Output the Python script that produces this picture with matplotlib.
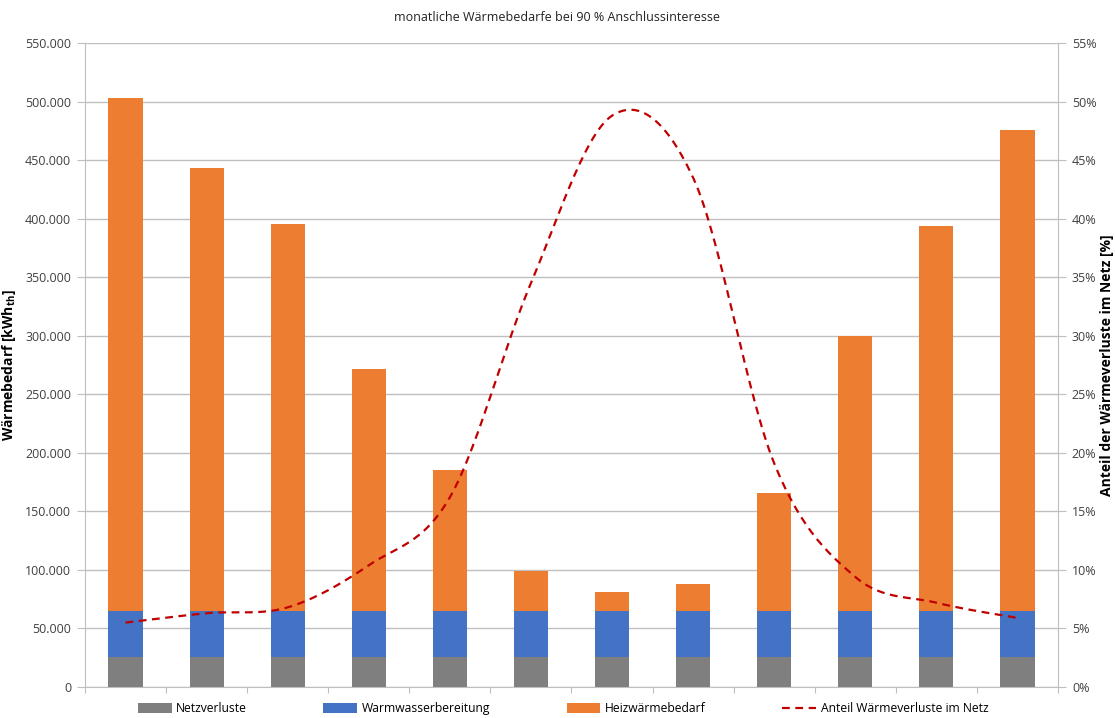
"""
monatliche Waermebedarfe als gestapelte Balken mit Verlustanteil
"""

import numpy as np
import matplotlib.pyplot as plt
from matplotlib.ticker import FuncFormatter, FixedLocator

plt.rcParams['font.family'] = ['Open Sans', 'DejaVu Sans']

# data
months = ['Jan', 'Feb', 'Mär', 'Apr', 'Mai', 'Jun', 'Jul', 'Aug', 'Sep', 'Okt', 'Nov', 'Dez']
netzverluste = [25600] * 12
warmwasser = [39300] * 12
gesamt = [503000, 443000, 395500, 271500, 185000, 99400, 81300, 87900, 166000, 300000, 393500, 475500]
anteil = [5.5, 6.3, 6.8, 10.4, 16.2, 34.5, 48.8, 43.5, 19.1, 9.4, 7.2, 5.9]

heizwaerme = [g - n - w for g, n, w in zip(gesamt, netzverluste, warmwasser)]

c_grey = '#7f7f7f'
c_blue = '#4472c4'
c_orange = '#ed7d31'
c_red = '#c00000'
c_grid = '#bfbfbf'


def catmull_rom(x, y, n=30):
    # smooth line like the spreadsheet's "smoothed line" option
    pts = np.column_stack([x, y]).astype(float)
    pts = np.vstack([pts[0], pts, pts[-1]])
    out = []
    for i in range(1, len(pts) - 2):
        p0, p1, p2, p3 = pts[i - 1], pts[i], pts[i + 1], pts[i + 2]
        t = np.linspace(0, 1, n, endpoint=False)[:, None]
        seg = 0.5 * ((2 * p1) + (-p0 + p2) * t + (2 * p0 - 5 * p1 + 4 * p2 - p3) * t ** 2
                     + (-p0 + 3 * p1 - 3 * p2 + p3) * t ** 3)
        out.append(seg)
    out.append(pts[-2][None, :])
    out = np.vstack(out)
    return out[:, 0], out[:, 1]


fig = plt.figure(figsize=(11.15, 7.18), dpi=100)
ax = fig.add_axes([0.0762, 0.0432, 0.8727, 0.8968])

x = np.arange(len(months))
w = 0.42
b1 = ax.bar(x, netzverluste, w, color=c_grey, label='Netzverluste', zorder=3)
b2 = ax.bar(x, warmwasser, w, bottom=netzverluste, color=c_blue, label='Warmwasserbereitung', zorder=3)
bottom2 = [n + ww for n, ww in zip(netzverluste, warmwasser)]
b3 = ax.bar(x, heizwaerme, w, bottom=bottom2, color=c_orange, label='Heizwärmebedarf', zorder=3)

ax.set_xlim(-0.5, len(months) - 0.5)
ax.set_ylim(0, 550000)
ax.set_yticks(np.arange(0, 550001, 50000))
ax.yaxis.set_major_formatter(FuncFormatter(lambda v, p: f"{int(v):,}".replace(",", ".")))
ax.xaxis.set_major_locator(FixedLocator(np.arange(-0.5, len(months), 1.0)))
ax.set_xticklabels([])
ax.grid(axis='y', color=c_grid, linewidth=1, zorder=0)
ax.tick_params(axis='x', length=4, color=c_grid, direction='out')
ax.tick_params(axis='y', length=6, color=c_grid, labelsize=9, labelcolor='#404040', pad=4)
ax.set_ylabel('Wärmebedarf [kWh$_\\mathregular{th}$]', fontsize=10, fontweight='bold')
ax.yaxis.set_label_coords(-0.0689, 0.5)

for s in ['top', 'right']:
    ax.spines[s].set_visible(False)
for s in ['left', 'bottom']:
    ax.spines[s].set_color(c_grid)

ax2 = ax.twinx()
sx, sy = catmull_rom(x, anteil)
line, = ax2.plot(sx, sy, color=c_red, linestyle=(0, (3.5, 2.5)), linewidth=1.6,
                 label='Anteil Wärmeverluste im Netz', zorder=4)
ax2.set_ylim(0, 55)
ax2.set_yticks(np.arange(0, 56, 5))
ax2.yaxis.set_major_formatter(FuncFormatter(lambda v, p: f"{int(v)}%"))
ax2.tick_params(axis='y', length=6, color=c_grid, labelsize=9, labelcolor='#404040', pad=4)
ax2.set_ylabel('Anteil der Wärmeverluste im Netz [%]', fontsize=10, fontweight='bold',
               rotation=90)
ax2.yaxis.set_label_coords(1.043, 0.5)
for s in ['top', 'left', 'bottom']:
    ax2.spines[s].set_visible(False)
ax2.spines['right'].set_color(c_grid)

fig.text(0.5, 0.975, 'monatliche Wärmebedarfe bei 90 % Anschlussinteresse',
         ha='center', va='center', fontsize=9, color='#222222')

fig.legend(handles=[b1, b2, b3, line], loc='center', bbox_to_anchor=(0.505, 0.013),
           ncol=4, frameon=False, fontsize=8.7, columnspacing=6.3, handlelength=2.8,
           handleheight=0.9, handletextpad=0.4)

fig.savefig('out.png', dpi=100)
